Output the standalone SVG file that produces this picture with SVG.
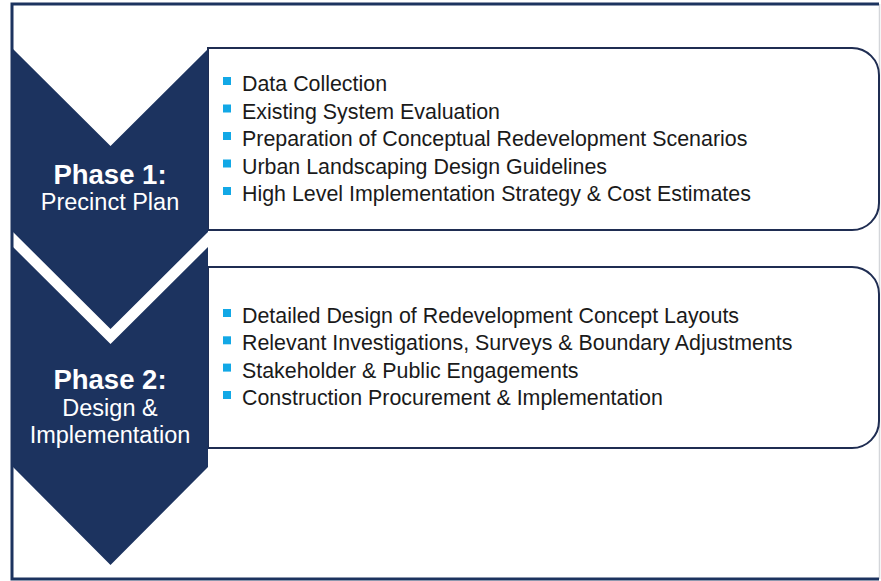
<svg xmlns="http://www.w3.org/2000/svg" width="881" height="581" viewBox="0 0 881 581">
<style>
.chev{fill:#1c335f}
.box{fill:#ffffff;stroke:#1f2d52;stroke-width:2}
.ttl{font-family:"Liberation Sans",Arial,sans-serif;font-weight:bold;font-size:27.5px;fill:#ffffff;text-anchor:middle}
.sub{font-family:"Liberation Sans",Arial,sans-serif;font-size:23.5px;fill:#ffffff;text-anchor:middle}
.item{font-family:"Liberation Sans",Arial,sans-serif;font-size:21.4px;fill:#1a1a1a}
.bul{fill:#12a8e6}
</style>
<rect width="881" height="581" fill="#ffffff"/>
<g id="frame">
<line x1="879.5" y1="4" x2="879.5" y2="579" stroke="#d4d6da" stroke-width="1.5"/>
<path d="M879,4 H12 V579 H879" fill="none" stroke="#1c335f" stroke-width="3"/>
</g>
<g id="phase1-box">
<path class="box" d="M208,48 H852 A27,27 0 0 1 879,75 V203 A27,27 0 0 1 852,230 H208 Z"/>
<rect class="bul" x="223" y="77" width="8" height="8"/>
<rect class="bul" x="223" y="104.5" width="8" height="8"/>
<rect class="bul" x="223" y="132" width="8" height="8"/>
<rect class="bul" x="223" y="159.5" width="8" height="8"/>
<rect class="bul" x="223" y="187" width="8" height="8"/>
<text class="item" x="242" y="91">Data Collection</text>
<text class="item" x="242" y="118.5">Existing System Evaluation</text>
<text class="item" x="242" y="146">Preparation of Conceptual Redevelopment Scenarios</text>
<text class="item" x="242" y="173.5">Urban Landscaping Design Guidelines</text>
<text class="item" x="242" y="201">High Level Implementation Strategy &amp; Cost Estimates</text>
</g>
<g id="phase2-box">
<path class="box" d="M208,267 H852 A27,27 0 0 1 879,294 V421 A27,27 0 0 1 852,448 H208 Z"/>
<rect class="bul" x="223" y="309" width="8" height="8"/>
<rect class="bul" x="223" y="336.3" width="8" height="8"/>
<rect class="bul" x="223" y="363.6" width="8" height="8"/>
<rect class="bul" x="223" y="391" width="8" height="8"/>
<text class="item" x="242" y="323">Detailed Design of Redevelopment Concept Layouts</text>
<text class="item" x="242" y="350.3">Relevant Investigations, Surveys &amp; Boundary Adjustments</text>
<text class="item" x="242" y="377.6">Stakeholder &amp; Public Engagements</text>
<text class="item" x="242" y="405">Construction Procurement &amp; Implementation</text>
</g>
<g id="phase1">
<path class="chev" d="M13,49 L110.5,146 L208,49 L208,232 L110.5,329 L13,232 Z"/>
<text class="ttl" x="110" y="184">Phase 1:</text>
<text class="sub" x="110" y="210">Precinct Plan</text>
</g>
<g id="phase2">
<path class="chev" d="M13,247 L110.5,344 L208,247 L208,467 L110.5,565 L13,467 Z"/>
<text class="ttl" x="110" y="389">Phase 2:</text>
<text class="sub" x="110" y="416">Design &amp;</text>
<text class="sub" x="110" y="443">Implementation</text>
</g>
</svg>
